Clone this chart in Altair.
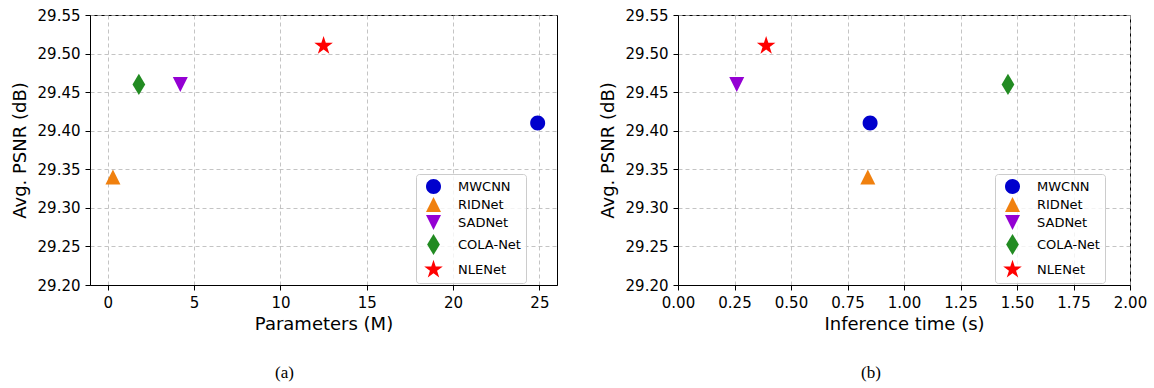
import math
import altair as alt
import pandas as pd

# ---- data ----
models = ["MWCNN", "RIDNet", "SADNet", "COLA-Net", "NLENet"]
params_m = [24.9, 0.3, 4.2, 1.8, 12.5]          # Parameters (M)
inference_s = [0.85, 0.84, 0.26, 1.46, 0.39]     # Inference time (s)
psnr_db = [29.41, 29.34, 29.46, 29.46, 29.51]   # Avg. PSNR (dB)
colors = ["#0000cd", "#f0800e", "#9400d3", "#228b22", "#ff0000"]

x_ticks_a = [0, 5, 10, 15, 20, 25]
x_ticks_b = [0.0, 0.25, 0.5, 0.75, 1.0, 1.25, 1.5, 1.75, 2.0]
y_ticks = [29.20, 29.25, 29.30, 29.35, 29.40, 29.45, 29.50, 29.55]

# ---- marker shapes (style: unit SVG paths) ----
circle_path = "M1,0A1,1,0,1,1,-1,0A1,1,0,1,1,1,0Z"
tri_up_path = "M0,-1L1,1L-1,1Z"
tri_down_path = "M0,1L1,-1L-1,-1Z"
thin_diamond_path = "M0,-1.41L0.85,0L0,1.41L-0.85,0Z"
_pts = []
for k in range(10):
    ang = -math.pi / 2 + k * math.pi / 5
    r = 1.3 if k % 2 == 0 else 0.5
    _pts.append(f"{r * math.cos(ang):.3f},{r * math.sin(ang):.3f}")
star_path = "M" + "L".join(_pts) + "Z"
shapes = [circle_path, tri_up_path, tri_down_path, thin_diamond_path, star_path]

df = pd.DataFrame({
    "model": models,
    "params": params_m,
    "time": inference_s,
    "psnr": psnr_db,
})

MARK_SIZE = 225


def panel(xfield, xtitle, xdomain, xticks, xfmt, legend_x, legend_y, caption, dx, width):
    leg = alt.Legend(
        orient="none", legendX=legend_x, legendY=legend_y, title=None,
        fillColor="rgba(255,255,255,0.8)", strokeColor="#cccccc", cornerRadius=3,
        padding=5, symbolSize=MARK_SIZE, symbolOffset=5, labelOffset=17,
        labelFontSize=13, labelFont="DejaVu Sans", labelColor="black",
        rowPadding=3, symbolStrokeWidth=0, symbolOpacity=1,
    )
    return alt.Chart(df).mark_point(filled=True, opacity=1, size=MARK_SIZE, strokeWidth=0).encode(
        x=alt.X(f"{xfield}:Q",
                scale=alt.Scale(domain=xdomain, nice=False, zero=False),
                axis=alt.Axis(values=xticks, format=xfmt, title=xtitle, labelFlush=False)),
        y=alt.Y("psnr:Q",
                scale=alt.Scale(domain=[29.2, 29.55], nice=False, zero=False),
                axis=alt.Axis(values=y_ticks, format=".2f", title="Avg. PSNR (dB)")),
        color=alt.Color("model:N", scale=alt.Scale(domain=models, range=colors), legend=leg),
        shape=alt.Shape("model:N", scale=alt.Scale(domain=models, range=shapes), legend=leg),
    ).properties(
        width=width, height=270,
        title=alt.TitleParams(caption, orient="bottom", anchor="middle", dx=dx, offset=32,
                              font="Liberation Serif", fontSize=17, fontWeight="normal",
                              color="black"),
    )


chart_a = panel("params", "Parameters (M)", [-1.03, 26.02], x_ticks_a, "d",
                326, 159, "(a)", -39, 467)
chart_b = panel("time", "Inference time (s)", [0, 2], x_ticks_b, ".2f",
                317, 159, "(b)", -33, 452)

chart = alt.hconcat(chart_a, chart_b, spacing=40).resolve_scale(
    color="independent", shape="independent"
).resolve_legend(
    color="independent", shape="independent"
).configure_view(
    stroke="black", strokeWidth=1
).configure_axis(
    labelFont="DejaVu Sans", labelFontSize=15, labelColor="black",
    titleFont="DejaVu Sans", titleFontSize=18, titleFontWeight="normal", titleColor="black",
    tickColor="black", tickSize=5, tickWidth=1, domainColor="black",
    gridColor="#b5b5b5", gridDash=[4, 3], gridWidth=0.8, labelPadding=5,
).configure_axisX(titlePadding=5).configure_axisY(titlePadding=8).properties(
    padding={"left": 10, "top": 7, "right": 0, "bottom": 0},
    background="white",
)

chart.save("out.html", embed_options={"renderer": "svg", "actions": False})
